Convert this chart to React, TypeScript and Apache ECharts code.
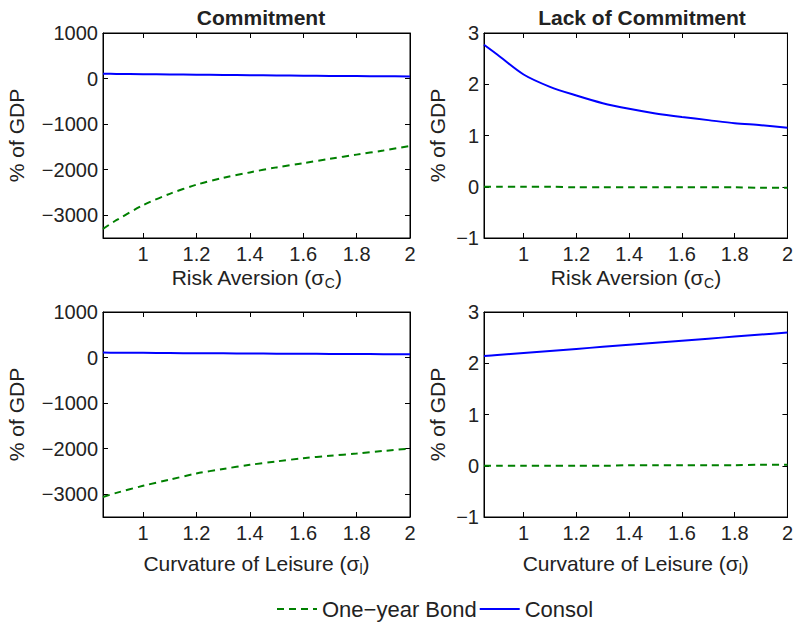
import React, { useEffect, useRef } from "react";
import * as echarts from "echarts";

const xs = [0.85, 0.9, 1.0, 1.1, 1.2, 1.3, 1.4, 1.5, 1.6, 1.7, 1.8, 1.9, 2.0];
const xTicks = [1, 1.2, 1.4, 1.6, 1.8, 2];
const commitTicks = [-3000, -2000, -1000, 0, 1000];
const lackTicks = [-1, 0, 1, 2, 3];

const riskBondCommit = [-3300, -3110, -2780, -2530, -2330, -2180, -2060, -1950, -1860, -1760, -1670, -1580, -1480];
const riskConsolCommit = [105, 102, 96, 90, 84, 78, 73, 68, 63, 58, 54, 50, 45];
const riskBondLack = [0.0, 0.0, 0.0, 0.0, -0.01, -0.01, -0.01, -0.01, -0.01, -0.01, -0.01, -0.02, -0.02];
const riskConsolLack = [2.77, 2.58, 2.19, 1.95, 1.78, 1.63, 1.52, 1.43, 1.36, 1.3, 1.24, 1.2, 1.15];

const leisureBondCommit = [-3060, -2970, -2816, -2680, -2546, -2445, -2355, -2280, -2210, -2155, -2107, -2050, -2000];
const leisureConsolCommit = [110, 107, 103, 99, 95, 92, 89, 86, 83, 80, 77, 75, 72];
const leisureBondLack = [0.0, 0.0, 0.0, 0.0, 0.0, 0.0, 0.01, 0.01, 0.01, 0.01, 0.01, 0.02, 0.02];
const leisureConsolLack = [2.14, 2.16, 2.2, 2.24, 2.28, 2.32, 2.36, 2.4, 2.44, 2.48, 2.52, 2.56, 2.6];

const BOND = "One−year Bond";
const CONSOL = "Consol";
const FONT = "'Liberation Sans', Arial, Helvetica, sans-serif";
const TXT = "#222";

const minusFmt = (v: number) => String(v).replace("-", "−");

export default function App() {
  const ref = useRef<HTMLDivElement>(null);
  useEffect(() => {
    if (!ref.current) return;
    const chart = echarts.init(ref.current, undefined, { renderer: "svg" });

    const grids = [
      { left: 103, top: 33, width: 307, height: 205 },
      { left: 484, top: 33, width: 307, height: 205 },
      { left: 103, top: 312, width: 307, height: 205 },
      { left: 484, top: 312, width: 307, height: 205 },
    ];
    const isCommit = [true, false, true, false];
    const xNames = [
      "Risk Aversion (σ{sub|C})",
      "Risk Aversion (σ{sub|C})",
      "Curvature of Leisure (σ{sub|l})",
      "Curvature of Leisure (σ{sub|l})",
    ];
    const xNameGap = [26, 26, 33, 33];
    const yNameGap = [76, 36, 76, 36];

    const xAxis: any[] = [];
    const yAxis: any[] = [];
    grids.forEach((g, i) => {
      const yTicks = isCommit[i] ? commitTicks : lackTicks;
      const yMin = isCommit[i] ? -3500 : -1;
      const yMax = isCommit[i] ? 1000 : 3;
      xAxis.push({
        type: "value",
        gridIndex: i,
        min: 0.85,
        max: 2,
        position: "bottom",
        name: xNames[i],
        nameLocation: "middle",
        nameGap: xNameGap[i],
        nameTextStyle: {
          fontFamily: FONT,
          fontSize: 21,
          color: TXT,
          rich: {
            sub: { fontFamily: FONT, fontSize: 14, color: TXT, padding: [12, 0, 0, 0] },
          },
        },
        axisLine: { show: true, onZero: false, lineStyle: { color: "#000", width: 1 } },
        axisTick: { show: true, inside: true, length: 5, customValues: xTicks, lineStyle: { color: "#000" } },
        axisLabel: {
          show: true,
          customValues: xTicks,
          margin: 6,
          fontFamily: FONT,
          fontSize: 20,
          color: TXT,
          formatter: (v: number) => String(v),
        },
        splitLine: { show: false },
      });
      xAxis.push({
        type: "value",
        gridIndex: i,
        min: 0.85,
        max: 2,
        position: "top",
        axisLine: { show: true, onZero: false, lineStyle: { color: "#000", width: 1 } },
        axisTick: { show: true, inside: true, length: 5, customValues: xTicks, lineStyle: { color: "#000" } },
        axisLabel: { show: false },
        splitLine: { show: false },
      });
      yAxis.push({
        type: "value",
        gridIndex: i,
        min: yMin,
        max: yMax,
        position: "left",
        name: "% of GDP",
        nameLocation: "middle",
        nameRotate: 90,
        nameGap: yNameGap[i],
        nameTextStyle: { fontFamily: FONT, fontSize: 21, color: TXT },
        axisLine: { show: true, onZero: false, lineStyle: { color: "#000", width: 1 } },
        axisTick: { show: true, inside: true, length: 5, customValues: yTicks, lineStyle: { color: "#000" } },
        axisLabel: {
          show: true,
          customValues: yTicks,
          margin: 5,
          fontFamily: FONT,
          fontSize: 20,
          color: TXT,
          formatter: minusFmt,
        },
        splitLine: { show: false },
      });
      yAxis.push({
        type: "value",
        gridIndex: i,
        min: yMin,
        max: yMax,
        position: "right",
        axisLine: { show: true, onZero: false, lineStyle: { color: "#000", width: 1 } },
        axisTick: { show: true, inside: true, length: 5, customValues: yTicks, lineStyle: { color: "#000" } },
        axisLabel: { show: false },
        splitLine: { show: false },
      });
    });

    const pairs = (arr: number[]) => xs.map((x, i) => [x, arr[i]]);
    const bondData = [riskBondCommit, riskBondLack, leisureBondCommit, leisureBondLack];
    const consolData = [riskConsolCommit, riskConsolLack, leisureConsolCommit, leisureConsolLack];
    const series: any[] = [];
    grids.forEach((_, i) => {
      series.push({
        type: "line",
        name: BOND,
        xAxisIndex: i * 2,
        yAxisIndex: i * 2,
        data: pairs(bondData[i]),
        showSymbol: false,
        symbol: "none",
        lineStyle: { color: "#008000", width: 2, type: [7, 5] },
        itemStyle: { color: "#008000" },
        smooth: 0.3,
      });
      series.push({
        type: "line",
        name: CONSOL,
        xAxisIndex: i * 2,
        yAxisIndex: i * 2,
        data: pairs(consolData[i]),
        showSymbol: false,
        symbol: "none",
        lineStyle: { color: "#0000ff", width: 2 },
        itemStyle: { color: "#0000ff" },
        smooth: 0.3,
      });
    });

    chart.setOption({
      animation: false,
      backgroundColor: "#fff",
      title: [
        {
          text: "Commitment",
          left: 256,
          textAlign: "center",
          top: 2,
          textStyle: { fontFamily: FONT, fontSize: 21, fontWeight: "bold", color: TXT },
        },
        {
          text: "Lack of Commitment",
          left: 637,
          textAlign: "center",
          top: 2,
          textStyle: { fontFamily: FONT, fontSize: 21, fontWeight: "bold", color: TXT },
        },
      ],
      legend: {
        data: [BOND, CONSOL],
        left: 271,
        top: 593,
        itemWidth: 40,
        itemHeight: 14,
        itemGap: 2,
        itemStyle: { opacity: 0 },
        textStyle: { fontFamily: FONT, fontSize: 22, color: TXT },
      },
      grid: grids.map((g) => ({ ...g, show: true, borderColor: "#000", borderWidth: 1, backgroundColor: "#fff" })),
      xAxis,
      yAxis,
      series,
    });
    return () => chart.dispose();
  }, []);
  return (
    <div
      ref={ref}
      style={{ position: "absolute", left: 0, top: 0, width: 796, height: 626, background: "#fff" }}
    />
  );
}
